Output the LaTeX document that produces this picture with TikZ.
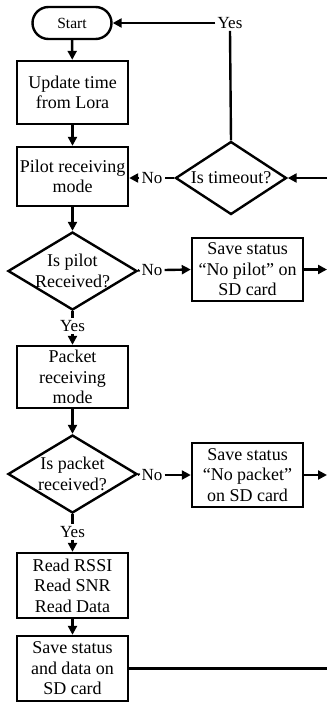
\documentclass[tikz,border=0pt]{standalone}
\usepackage{fontspec}
\setmainfont{Liberation Serif}
\usetikzlibrary{shapes.geometric,arrows.meta}
\begin{document}
\begin{tikzpicture}[x=1pt,y=-1pt,
  line width=2.4pt,
  box/.style={draw,line width=2.4pt,rectangle,minimum width=111pt,inner sep=0pt,align=center,font=\fontsize{18}{20.5}\selectfont},
  dec/.style={draw,line width=2.4pt,diamond,inner xsep=-12pt,inner ysep=-6pt,align=center,font=\fontsize{18}{20.5}\selectfont},
  lab/.style={inner sep=1pt,font=\fontsize{17}{19}\selectfont},
  arr/.style={-{Triangle[length=9pt,width=9pt]}}]
\useasboundingbox (0,0) rectangle (327,702);
\node[draw,line width=2.4pt,rounded corners=16pt,minimum width=79pt,minimum height=32pt,inner sep=0pt,font=\fontsize{15.5}{18}\selectfont] (start) at (72,23) {Start};
\node[box,minimum height=63pt] (update) at (72.5,92.5) {Update time\\from Lora};
\node[box,minimum height=59pt] (pilot) at (72.5,176.5) {Pilot receiving\\mode};
\node[dec,minimum width=111pt,minimum height=73pt] (timeout) at (231,178) {Is timeout?};
\node[dec,minimum width=129pt,minimum height=78pt] (ispilot) at (72.5,271) {Is pilot\\Received?};
\node[box,minimum height=63pt] (savepilot) at (247.5,269.5) {Save status\\``No pilot'' on\\SD card};
\node[box,minimum height=62pt] (packet) at (72.5,377) {Packet\\receiving\\mode};
\node[dec,minimum width=129pt,minimum height=78pt] (ispacket) at (72.5,474) {Is packet\\received?};
\node[box,minimum height=64pt] (savepacket) at (247.5,475) {Save status\\``No packet''\\on SD card};
\node[box,minimum height=65pt] (read) at (72.5,585.5) {Read RSSI\\Read SNR\\Read Data};
\node[box,minimum height=65pt] (savedata) at (72.5,668.5) {Save status\\and data on\\SD card};
% labels
\node[lab] (yes0) at (230,23) {Yes};
\node[lab] (no0) at (152,178) {No};
\node[lab] (no1) at (152,270) {No};
\node[lab] (yes1) at (72.5,326) {Yes};
\node[lab] (no2) at (152,475) {No};
\node[lab] (yes2) at (72.5,532) {Yes};
% edge coordinates
\coordinate (e0) at (327,178);
\coordinate (e1) at (327,269.5);
\coordinate (e2) at (327,475);
\coordinate (e3) at (327,668.5);
% connectors
\draw[arr] (start) -- (update);
\draw[arr] (update) -- (pilot);
\draw[arr] (pilot) -- (ispilot);
\draw (ispilot) -- (yes1);
\draw[arr] (yes1) -- (packet);
\draw[arr] (packet) -- (ispacket);
\draw (ispacket) -- (yes2);
\draw[arr] (yes2) -- (read);
\draw[arr] (read) -- (savedata);
\draw (ispilot.east) -- (no1.west);
\draw[arr] (no1.east) -- (savepilot.west);
\draw (ispacket.east) -- (no2.west);
\draw[arr] (no2.east) -- (savepacket.west);
\draw (timeout.west) -- (no0.east);
\draw[arr] (no0.west) -- (pilot.east |- no0.west);
\draw (timeout.north) -- (yes0.south);
\draw[arr] (yes0.west) -- (start.east);
\draw[arr] (e0) -- (timeout.east);
\draw[arr] (savepilot.east) -- (e1);
\draw[arr] (savepacket.east) -- (e2);
\draw (savedata.east) -- (e3);
\end{tikzpicture}
\end{document}
